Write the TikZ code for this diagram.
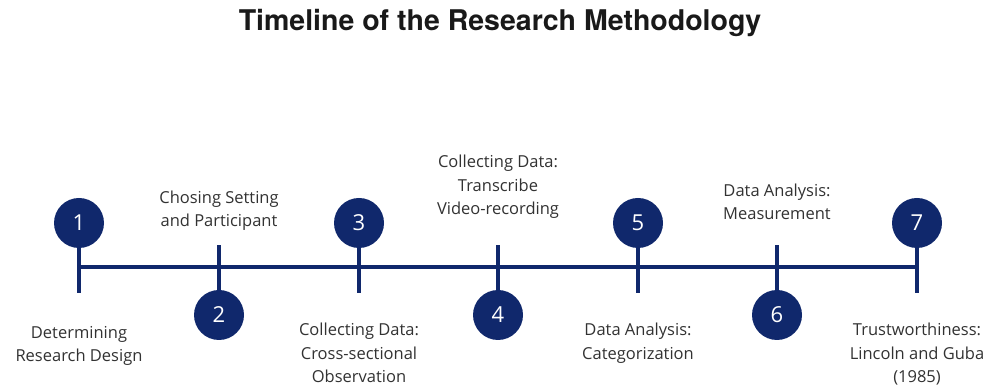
\documentclass[tikz,border=0pt]{standalone}
\usepackage{fontspec}
\setmainfont{Open Sans}
\newfontfamily\titlefont{TeX Gyre Heros}
\usetikzlibrary{positioning}
\definecolor{tlnavy}{RGB}{16, 40, 108}
\definecolor{tltext}{RGB}{50, 50, 50}

\begin{document}
\begin{tikzpicture}[
    x=1pt, y=1pt,
    stepdot/.style={circle, fill=tlnavy, minimum size=50pt, inner sep=0pt,
                 text=white, font=\fontsize{22}{22}\selectfont},
    axis/.style={line width=4.5pt, color=tlnavy},
    lbl/.style={align=center, text=tltext, inner sep=0pt,
                font=\fontsize{16.5}{23.5}\selectfont}
  ]
    \useasboundingbox (0,0) rectangle (998,385);

    \node[font=\titlefont\bfseries\fontsize{28.5}{28.5}\selectfont, text=black!90] (title)
      at (500,362) {Timeline of the Research Methodology};

    % points on the axis
    \coordinate (t1) at (79,118);
    \coordinate (t2) at (219,118);
    \coordinate (t3) at (359,118);
    \coordinate (t4) at (498,118);
    \coordinate (t5) at (638,118);
    \coordinate (t6) at (777,118);
    \coordinate (t7) at (917,118);

    % free ends of the ticks
    \coordinate (e1) at (79,92);
    \coordinate (e2) at (219,140);
    \coordinate (e3) at (359,92);
    \coordinate (e4) at (498,140);
    \coordinate (e5) at (638,92);
    \coordinate (e6) at (777,140);
    \coordinate (e7) at (917,92);

    \draw[axis] (t1) -- (t7);

    \node[stepdot] (s1) at (79,162)  {1};
    \node[stepdot] (s2) at (219,70)  {2};
    \node[stepdot] (s3) at (359,162) {3};
    \node[stepdot] (s4) at (498,70)  {4};
    \node[stepdot] (s5) at (638,162) {5};
    \node[stepdot] (s6) at (777,70)  {6};
    \node[stepdot] (s7) at (917,162) {7};

    \draw[axis] (s1) -- (e1);
    \draw[axis] (s2) -- (e2);
    \draw[axis] (s3) -- (e3);
    \draw[axis] (s4) -- (e4);
    \draw[axis] (s5) -- (e5);
    \draw[axis] (s6) -- (e6);
    \draw[axis] (s7) -- (e7);

    \node[lbl, anchor=north] (l1) at (79,59)  {Determining\\Research Design};
    \node[lbl, anchor=south] (l2) at (219,154) {Chosing Setting\\and Participant};
    \node[lbl, anchor=north] (l3) at (359,62) {Collecting Data:\\Cross-sectional\\Observation};
    \node[lbl, anchor=south] (l4) at (498,166) {Collecting Data:\\Transcribe\\Video-recording};
    \node[lbl, anchor=north] (l5) at (638,62) {Data Analysis:\\Categorization};
    \node[lbl, anchor=south] (l6) at (777,165) {Data Analysis:\\Measurement};
    \node[lbl, anchor=north] (l7) at (917,62) {Trustworthiness:\\Lincoln and Guba\\(1985)};
\end{tikzpicture}
\end{document}
